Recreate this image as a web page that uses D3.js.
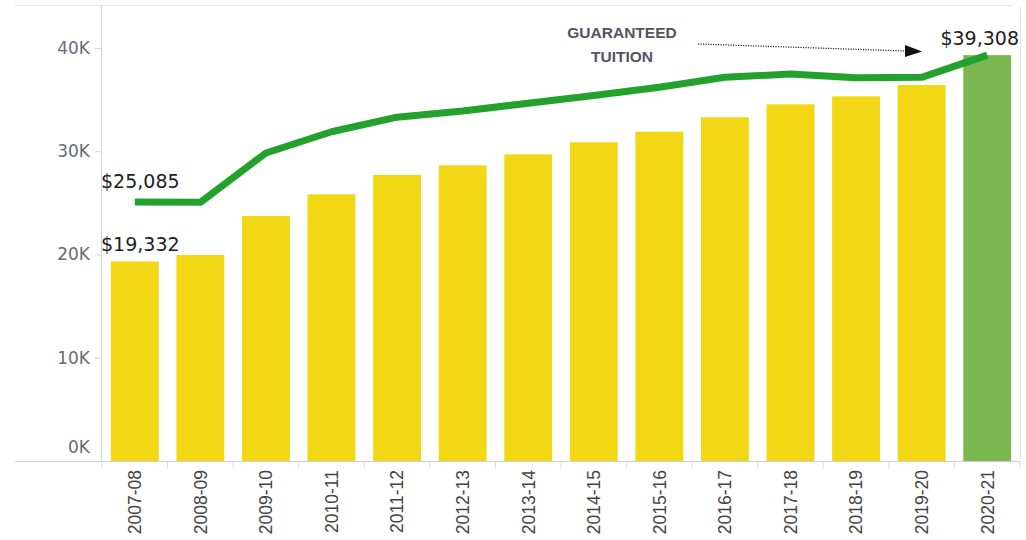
<!DOCTYPE html>
<html>
<head>
<meta charset="utf-8">
<script src="https://cdn.jsdelivr.net/npm/d3@7"></script>
<style>
body { margin: 0; background: #fff; }
svg { display: block; font-family: "DejaVu Sans", sans-serif; }
.yaxis text { fill: #6b6b70; font-size: 17px; font-family: "DejaVu Sans", sans-serif; }
.xaxis text { fill: #444; font-size: 17.5px; font-family: "Liberation Sans", Arial, sans-serif; }
</style>
</head>
<body>
<script>
// school years
var years = ["2007-08","2008-09","2009-10","2010-11","2011-12","2012-13","2013-14",
             "2014-15","2015-16","2016-17","2017-18","2018-19","2019-20","2020-21"];

// bars: tuition per year
var tuition = [19332, 19950, 23730, 25830, 27700, 28640, 29700,
               30870, 31890, 33290, 34550, 35320, 36420, 39308];

// line: guaranteed tuition
var guaranteed = [25085, 25050, 29830, 31890, 33300, 33900, 34650,
                  35400, 36200, 37160, 37480, 37120, 37160, 39308];

var yTicks = [0, 10000, 20000, 30000, 40000];

var width = 1026, height = 540;

var svg = d3.select("body").append("svg")
    .attr("width", width)
    .attr("height", height);

var x = d3.scaleBand()
    .domain(years)
    .range([102, 1020])
    .paddingInner(0.27)
    .paddingOuter(0.135);

var y = d3.scaleLinear()
    .domain([0, 40000])
    .range([461, 48]);

// frame lines
svg.append("line")
    .attr("x1", 15).attr("x2", 1012)
    .attr("y1", 5.5).attr("y2", 5.5)
    .attr("stroke", "#e2e2e2");
svg.append("line")
    .attr("x1", 101.5).attr("x2", 101.5)
    .attr("y1", 6).attr("y2", 461)
    .attr("stroke", "#d6d6d6");
svg.append("line")
    .attr("x1", 1020.5).attr("x2", 1020.5)
    .attr("y1", 6).attr("y2", 461)
    .attr("stroke", "#e6e6e6");

// y axis
var yAxis = svg.append("g")
    .attr("class", "yaxis")
    .attr("transform", "translate(101,0)")
    .call(d3.axisLeft(y).tickValues(yTicks).tickSize(6).tickPadding(5)
        .tickFormat(function(d) { return (d / 1000) + "K"; }));
yAxis.select(".domain").remove();
yAxis.selectAll("line").attr("stroke", "#d6d6d6");
yAxis.selectAll("text").filter(function(d) { return d === 0; }).attr("dy", "-0.5em");

// bars
svg.selectAll(".bar")
    .data(years)
    .enter()
    .append("rect")
    .attr("class", "bar")
    .attr("x", function(d) { return x(d); })
    .attr("width", x.bandwidth())
    .attr("y", function(d, i) { return y(tuition[i]); })
    .attr("height", function(d, i) { return y(0) - y(tuition[i]); })
    .attr("fill", function(d, i) { return i === years.length - 1 ? "#79b84f" : "#f2d814"; });

// baseline
svg.append("line")
    .attr("x1", 15).attr("x2", 1020)
    .attr("y1", 461.5).attr("y2", 461.5)
    .attr("stroke", "#cfcfcf");

// x axis with divider ticks between categories
var xg = svg.append("g")
    .attr("class", "xaxis")
    .attr("transform", "translate(0,462)");
xg.selectAll(".div")
    .data(years.concat(["end"]))
    .enter()
    .append("line")
    .attr("x1", function(d, i) { return 102 + i * x.step(); })
    .attr("x2", function(d, i) { return 102 + i * x.step(); })
    .attr("y1", 0).attr("y2", 7)
    .attr("stroke", "#dcdcdc");
xg.selectAll("text")
    .data(years)
    .enter()
    .append("text")
    .attr("transform", function(d) {
        return "translate(" + (x(d) + x.bandwidth() / 2) + ",8) rotate(-90)";
    })
    .attr("text-anchor", "end")
    .attr("dy", "0.36em")
    .text(function(d) { return d; });

// guaranteed tuition line
var line = d3.line()
    .x(function(d, i) { return x(years[i]) + x.bandwidth() / 2; })
    .y(function(d) { return y(d); });

svg.append("path")
    .datum(guaranteed)
    .attr("fill", "none")
    .attr("stroke", "#22a12c")
    .attr("stroke-width", 7)
    .attr("stroke-linejoin", "round")
    .attr("d", line);

// value labels
var fmt = d3.format("$,");
svg.append("text")
    .attr("x", 101).attr("y", 188)
    .attr("font-size", 19).attr("fill", "#222")
    .text(fmt(guaranteed[0]));
svg.append("text")
    .attr("x", 101).attr("y", 251)
    .attr("font-size", 19).attr("fill", "#222")
    .text(fmt(tuition[0]));
svg.append("text")
    .attr("x", 1019).attr("y", 45)
    .attr("text-anchor", "end")
    .attr("font-size", 19).attr("fill", "#222")
    .text(fmt(tuition[tuition.length - 1]));

// annotation
var note = svg.append("text")
    .attr("text-anchor", "middle")
    .attr("font-family", "'Liberation Sans', Arial, sans-serif")
    .attr("font-size", 15.5)
    .attr("font-weight", "bold")
    .attr("fill", "#53535e");
note.append("tspan").attr("x", 622).attr("y", 38).text("GUARANTEED");
note.append("tspan").attr("x", 622).attr("y", 62).text("TUITION");

svg.append("line")
    .attr("x1", 698).attr("x2", 906)
    .attr("y1", 44).attr("y2", 51)
    .attr("stroke", "#222")
    .attr("stroke-width", 1.2)
    .attr("stroke-dasharray", "1.2,1.3");
svg.append("path")
    .attr("d", "M905,45L922,51.5L905,57Z")
    .attr("fill", "#111");
</script>
</body>
</html>
